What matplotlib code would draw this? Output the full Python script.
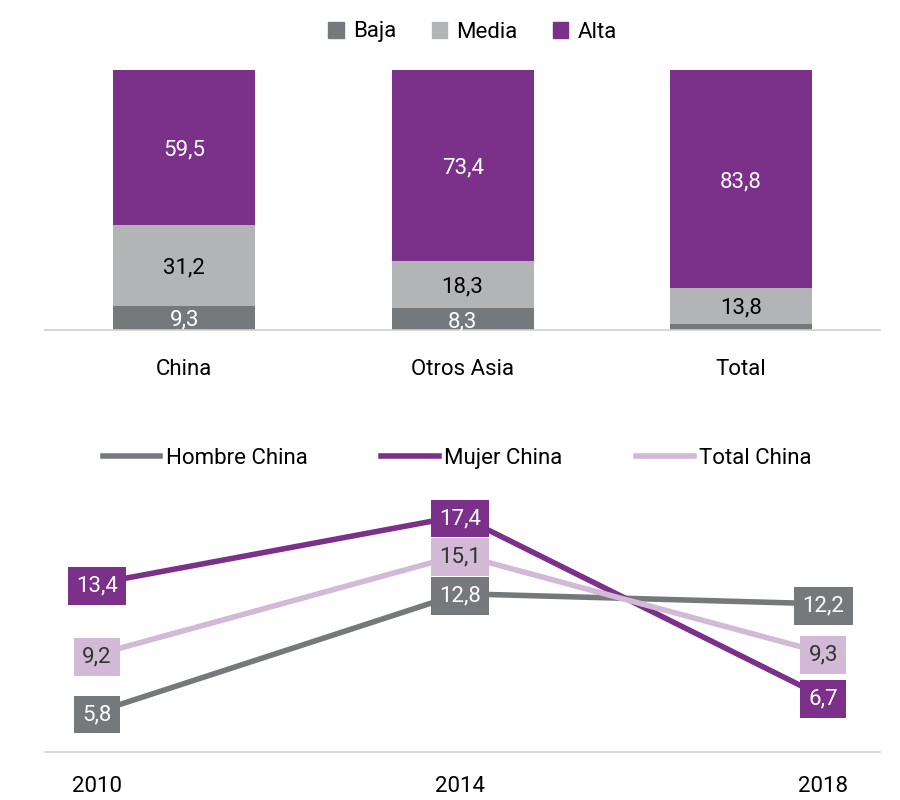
import matplotlib
matplotlib.use("Agg")
import matplotlib.pyplot as plt
from matplotlib.lines import Line2D
from matplotlib.patches import Patch
import numpy as np

plt.rcParams['font.family'] = ['Roboto', 'DejaVu Sans']

# ── Data ──────────────────────────────────────────────────────────────────────
categories = ["China", "Otros Asia", "Total"]
baja = [9.3, 8.3, 2.4]
media = [31.2, 18.3, 13.8]
alta = [59.5, 73.4, 83.8]

years = ["2010", "2014", "2018"]
hombre = [5.8, 12.8, 12.2]
mujer = [13.4, 17.4, 6.7]
total_china = [9.2, 15.1, 9.3]

C_BAJA = "#76797c"
C_MEDIA = "#b2b4b5"
C_ALTA = "#7b3089"
C_TOTAL = "#d2b9d6"


def fmt(v):
    return f"{v:.1f}".replace(".", ",")


fig = plt.figure(figsize=(9, 8), dpi=100)

# ── Top: stacked bars ─────────────────────────────────────────────────────────
ax1 = fig.add_axes([0.05, 0.5875, 0.928, 0.325])
x = np.arange(len(categories))
w = 0.51
bottom_media = baja
bottom_alta = np.add(baja, media)
ax1.bar(x, baja, w, color=C_BAJA)
ax1.bar(x, media, w, bottom=bottom_media, color=C_MEDIA)
ax1.bar(x, alta, w, bottom=bottom_alta, color=C_ALTA)

for vals, bottoms, col in [(baja, [0] * 3, "white"),
                           (media, bottom_media, "black"),
                           (alta, bottom_alta, "white")]:
    for xi, v, b in zip(x, vals, bottoms):
        if v < 5:   # too thin to label
            continue
        ax1.text(xi, b + v / 2, fmt(v), ha="center", va="center_baseline",
                 color=col, fontsize=16)

ax1.set_xlim(-0.5, 2.5)
ax1.set_ylim(0, 100)
ax1.set_xticks(x)
ax1.set_xticklabels(categories, fontsize=16)
ax1.tick_params(axis="x", length=0, pad=21)
ax1.set_yticks([])
for s in ["top", "right", "left"]:
    ax1.spines[s].set_visible(False)
ax1.spines["bottom"].set_color("#d0d0d0")
ax1.spines["bottom"].set_linewidth(1.2)

handles = [Patch(color=C_BAJA), Patch(color=C_MEDIA), Patch(color=C_ALTA)]
fig.legend(handles, ["Baja", "Media", "Alta"], loc="center",
           bbox_to_anchor=(0.525, 0.96), ncol=3, frameon=False, fontsize=16,
           handlelength=0.7, handleheight=0.7, handletextpad=0.4, columnspacing=1.6)

# ── Bottom: lines ─────────────────────────────────────────────────────────────
ax2 = fig.add_axes([0.05, 0.06, 0.928, 0.34])
xp = np.arange(len(years))
series = [("Hombre China", hombre, C_BAJA, "white"),
          ("Mujer China", mujer, C_ALTA, "white"),
          ("Total China", total_china, C_TOTAL, "#333333")]

for i, (name, vals, col, tcol) in enumerate(series):
    ax2.plot(xp, vals, color=col, linewidth=4, zorder=2 + i)
for name, vals, col, tcol in series:
    for xi, v in zip(xp, vals):
        ax2.text(xi, v, fmt(v), ha="center", va="center_baseline",
                 color=tcol, fontsize=16, zorder=10,
                 bbox=dict(boxstyle="square,pad=0.38", fc=col, ec="none"))

ax2.set_xlim(-0.143, 2.157)
ax2.set_ylim(3.43, 19.53)
ax2.set_xticks(xp)
ax2.set_xticklabels(years, fontsize=16)
ax2.tick_params(axis="x", length=0, pad=17)
ax2.set_yticks([])
for s in ["top", "right", "left"]:
    ax2.spines[s].set_visible(False)
ax2.spines["bottom"].set_color("#d0d0d0")
ax2.spines["bottom"].set_linewidth(1.2)

lh = [Line2D([0], [0], color=c, linewidth=4) for _, _, c, _ in series]
fig.legend(lh, [s[0] for s in series], loc="center",
           bbox_to_anchor=(0.508, 0.427), ncol=3, frameon=False, fontsize=16,
           handlelength=2.6, handletextpad=0.25, columnspacing=3.3)

fig.savefig("out.png", dpi=100)
